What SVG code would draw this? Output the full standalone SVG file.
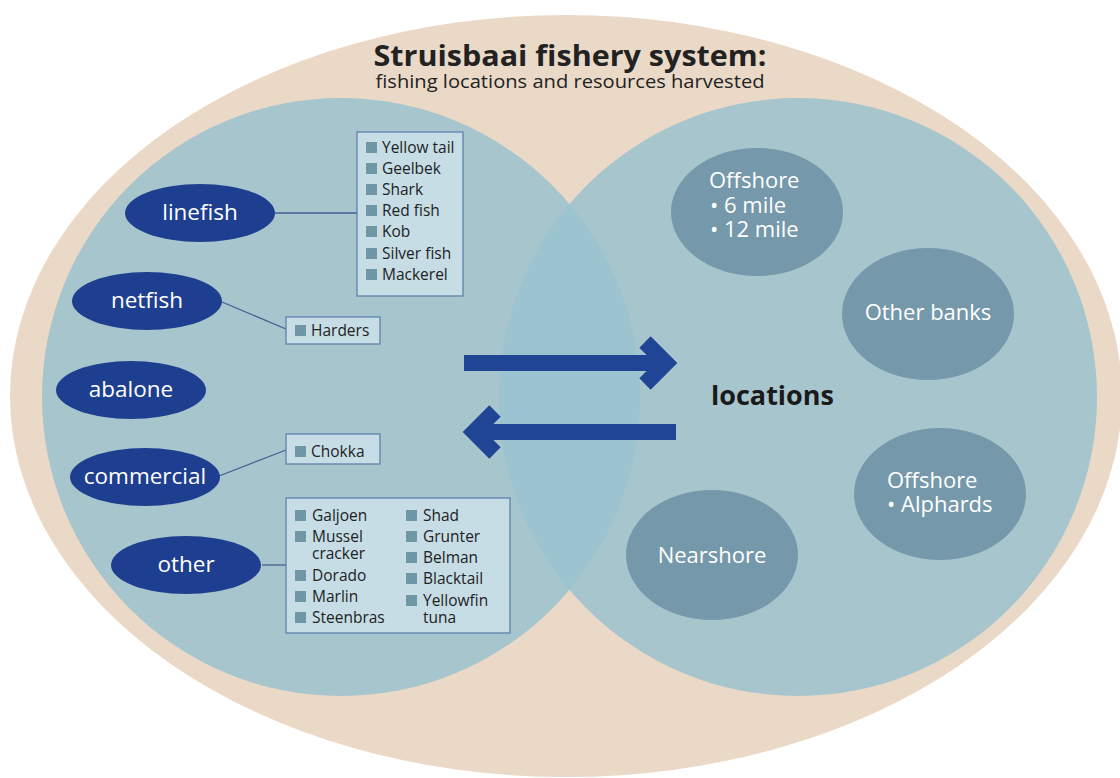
<svg xmlns="http://www.w3.org/2000/svg" width="1120" height="778" viewBox="0 0 1120 778">
<style>
text{font-family:"Open Sans","Liberation Sans",sans-serif}
.cat{fill:#1e3f8f}
.catt{fill:#fff;font-size:22.5px;text-anchor:middle}
.box{fill:#c6dde6;stroke:#5f82ad;stroke-width:1.3}
.sq{fill:#6f97a6}
.it{fill:#222;font-size:15.5px}
.loc{fill:#7598aa}
.loct{fill:#fff;font-size:22px}
.con{stroke:#3f5f95;stroke-width:1.3;fill:none}
.arr{stroke:#1f4594;stroke-width:16;fill:none;stroke-linejoin:miter;stroke-miterlimit:10}
</style>
<defs>
<clipPath id="lc"><circle cx="341" cy="397" r="299"/></clipPath>
</defs>
<rect width="1120" height="778" fill="#fff"/>
<ellipse cx="566" cy="396" rx="556" ry="381" fill="#ebd9c7"/>
<circle cx="341" cy="397" r="299" fill="#a7c5cd"/>
<circle cx="798" cy="397" r="299" fill="#a7c5cd"/>
<circle cx="798" cy="397" r="299" fill="#9cc3d0" clip-path="url(#lc)"/>
<g id="title">
<text x="570" y="66" font-size="29" font-weight="bold" fill="#222" text-anchor="middle" textLength="393" lengthAdjust="spacingAndGlyphs">Struisbaai fishery system:</text>
<text x="570" y="88" font-size="18" fill="#222" text-anchor="middle" textLength="389" lengthAdjust="spacingAndGlyphs">fishing locations and resources harvested</text>
</g>
<g id="connectors">
<line class="con" x1="275" y1="213" x2="357" y2="213"/>
<line class="con" x1="222" y1="302" x2="286" y2="329"/>
<line class="con" x1="219" y1="476" x2="286" y2="450"/>
<line class="con" x1="262" y1="565" x2="286" y2="565"/>
<path class="arr" d="M464 363H662M645 342L666 363L645 384"/>
<path class="arr" d="M676 432H478M495 411L474 432L495 453"/>
</g>
<g id="linefish"><ellipse class="cat" cx="200" cy="213" rx="75" ry="29"/><text class="catt" x="200" y="220">linefish</text></g>
<g id="netfish"><ellipse class="cat" cx="147" cy="301" rx="75" ry="29"/><text class="catt" x="147" y="308">netfish</text></g>
<g id="abalone"><ellipse class="cat" cx="131" cy="390" rx="75" ry="29"/><text class="catt" x="131" y="397">abalone</text></g>
<g id="commercial"><ellipse class="cat" cx="145" cy="477" rx="75" ry="29"/><text class="catt" x="145" y="484">commercial</text></g>
<g id="other"><ellipse class="cat" cx="186" cy="565" rx="75" ry="29"/><text class="catt" x="186" y="572">other</text></g>
<g id="linefish-species">
<rect class="box" x="357" y="132" width="106" height="164"/>
<rect class="sq" x="366" y="142" width="11" height="11"/><text class="it" x="382" y="153">Yellow tail</text>
<rect class="sq" x="366" y="163" width="11" height="11"/><text class="it" x="382" y="174">Geelbek</text>
<rect class="sq" x="366" y="184" width="11" height="11"/><text class="it" x="382" y="195">Shark</text>
<rect class="sq" x="366" y="205" width="11" height="11"/><text class="it" x="382" y="216">Red fish</text>
<rect class="sq" x="366" y="226" width="11" height="11"/><text class="it" x="382" y="237">Kob</text>
<rect class="sq" x="366" y="248" width="11" height="11"/><text class="it" x="382" y="259">Silver fish</text>
<rect class="sq" x="366" y="269" width="11" height="11"/><text class="it" x="382" y="280">Mackerel</text>
</g>
<g id="netfish-species">
<rect class="box" x="286" y="317" width="94" height="27"/>
<rect class="sq" x="295" y="325" width="11" height="11"/><text class="it" x="311" y="336">Harders</text>
</g>
<g id="commercial-species">
<rect class="box" x="286" y="434" width="94" height="30"/>
<rect class="sq" x="295" y="446" width="11" height="11"/><text class="it" x="311" y="457">Chokka</text>
</g>
<g id="other-species">
<rect class="box" x="286" y="498" width="224" height="135"/>
<rect class="sq" x="295" y="510" width="11" height="11"/><text class="it" x="312" y="521">Galjoen</text>
<rect class="sq" x="295" y="531" width="11" height="11"/><text class="it" x="312" y="542">Mussel</text>
<text class="it" x="312" y="559">cracker</text>
<rect class="sq" x="295" y="570" width="11" height="11"/><text class="it" x="312" y="581">Dorado</text>
<rect class="sq" x="295" y="591" width="11" height="11"/><text class="it" x="312" y="602">Marlin</text>
<rect class="sq" x="295" y="612" width="11" height="11"/><text class="it" x="312" y="623">Steenbras</text>
<rect class="sq" x="406" y="510" width="11" height="11"/><text class="it" x="423" y="521">Shad</text>
<rect class="sq" x="406" y="531" width="11" height="11"/><text class="it" x="423" y="542">Grunter</text>
<rect class="sq" x="406" y="552" width="11" height="11"/><text class="it" x="423" y="563">Belman</text>
<rect class="sq" x="406" y="573" width="11" height="11"/><text class="it" x="423" y="584">Blacktail</text>
<rect class="sq" x="406" y="595" width="11" height="11"/><text class="it" x="423" y="606">Yellowfin</text>
<text class="it" x="423" y="623">tuna</text>
</g>
<g id="loc-offshore-miles"><ellipse class="loc" cx="757" cy="212" rx="86" ry="64"/>
<text class="loct" x="709" y="188">Offshore</text><text class="loct" x="710" y="213">• 6 mile</text><text class="loct" x="710" y="237">• 12 mile</text></g>
<g id="loc-other-banks"><ellipse class="loc" cx="928" cy="314" rx="86" ry="66"/>
<text class="loct" x="928" y="320" text-anchor="middle">Other banks</text></g>
<g id="loc-offshore-alphards"><ellipse class="loc" cx="940" cy="494" rx="86" ry="66"/>
<text class="loct" x="887" y="488">Offshore</text><text class="loct" x="887" y="512">• Alphards</text></g>
<g id="loc-nearshore"><ellipse class="loc" cx="712" cy="555" rx="86" ry="65"/>
<text class="loct" x="712" y="563" text-anchor="middle">Nearshore</text></g>
<g id="locations-label"><text x="711" y="405" font-size="27" font-weight="bold" fill="#1a1a1a">locations</text></g>
</svg>
